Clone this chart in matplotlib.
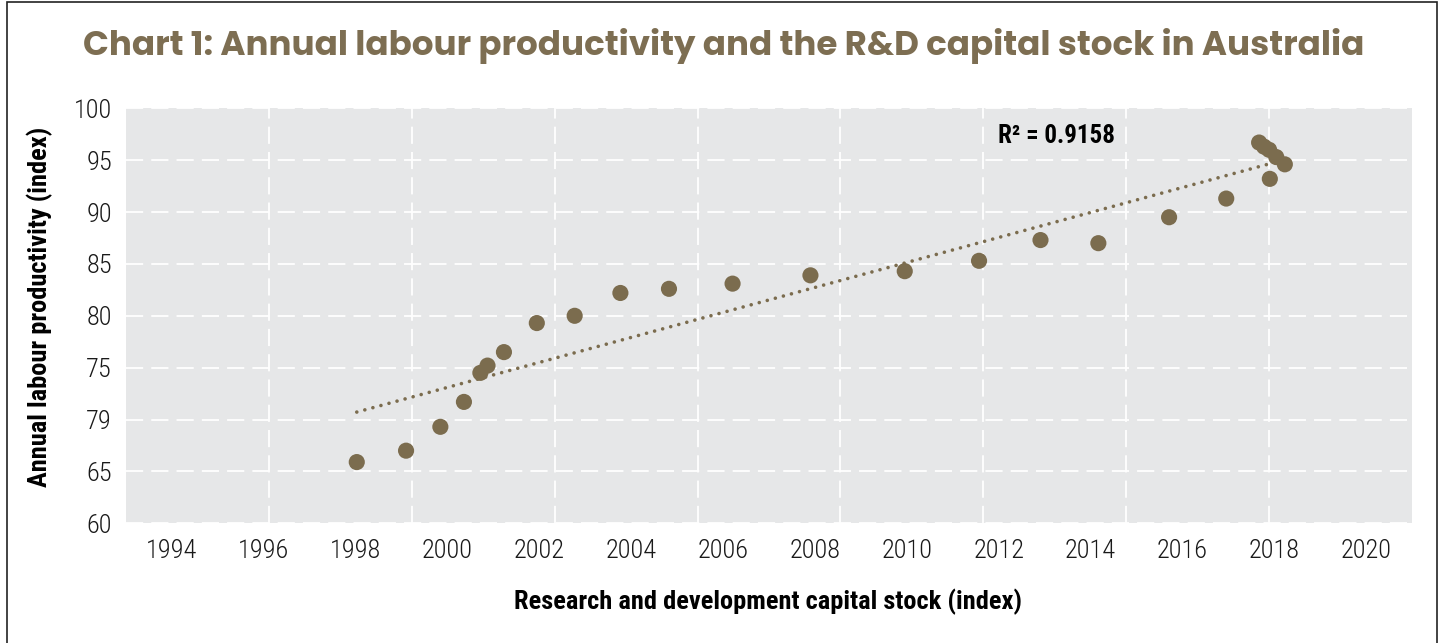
#!/usr/bin/env python3
"""Chart 1: annual labour productivity vs the R&D capital stock in Australia."""

import numpy as np
import matplotlib
matplotlib.use('Agg')
import matplotlib.pyplot as plt
from matplotlib import font_manager
from matplotlib.patches import Rectangle

# R&D capital stock (index) - x values
rd_capital = [32.3, 39.2, 44.0, 47.3, 49.6, 50.6, 52.9, 57.5, 62.8, 69.2,
              76.0, 84.9, 95.8, 109.0, 119.4, 128.0, 136.1, 146.0, 154.0,
              160.1, 158.6, 159.3, 160.0, 161.0, 162.2]
# Annual labour productivity (index)
labour_prod = [65.9, 67.0, 69.3, 71.7, 74.5, 75.2, 76.5, 79.3, 80.0, 82.2,
               82.6, 83.1, 83.9, 84.3, 85.3, 87.3, 87.0, 89.5, 91.3,
               93.2, 96.7, 96.3, 96.0, 95.3, 94.6]

year_labels = ['1994', '1996', '1998', '2000', '2002', '2004', '2006',
               '2008', '2010', '2012', '2014', '2016', '2018', '2020']
y_ticks = [60, 65, 70, 75, 80, 85, 90, 95, 100]
y_tick_labels = ['60', '65', '79', '75', '80', '85', '90', '95', '100']
r2_text = 'R² = 0.9158'

BROWN = '#7b6c4e'
TITLE_COLOR = '#7d6e52'
PANEL = '#e6e7e8'


def pick_font(*names):
    installed = {f.name for f in font_manager.fontManager.ttflist}
    for n in names:
        if n in installed:
            return n
    return 'DejaVu Sans'


narrow = pick_font('Roboto Condensed', 'Liberation Sans Narrow', 'Roboto')
tick_font = pick_font('Roboto Condensed', 'Roboto')
title_font = pick_font('Poppins', 'Montserrat', 'Open Sans', 'Lato')

fig = plt.figure(figsize=(14.5, 6.43), dpi=100)
fig.patch.set_facecolor('white')
fig.patches.append(Rectangle((7 / 1450, -0.05), 1430 / 1450, 1.05 - 2 / 643,
                             transform=fig.transFigure, fill=False,
                             edgecolor='#222222', linewidth=1.2))

ax = fig.add_axes([126 / 1450, 1 - 523.3 / 643, 1286 / 1450, 415 / 643])
ax.set_facecolor(PANEL)
for s in ax.spines.values():
    s.set_visible(False)

x_min, x_max = 0, 180
ax.set_xlim(x_min, x_max)
ax.set_ylim(60, 100)

# year labels sit in the middle of 14 equal bins
n = len(year_labels)
centers = [x_min + (i + 0.5) * (x_max - x_min) / n for i in range(n)]
ax.set_xticks(centers)
ax.set_xticklabels(year_labels)
ax.set_xticks(np.arange(20, 180, 20), minor=True)
ax.set_yticks(y_ticks)
ax.set_yticklabels(y_tick_labels)

ax.tick_params(axis='both', which='both', length=0)
ax.tick_params(axis='x', pad=11, labelsize=19)
ax.tick_params(axis='y', pad=10, labelsize=19)
for lab in ax.get_xticklabels() + ax.get_yticklabels():
    lab.set_family(tick_font)
    lab.set_fontweight('light')
    lab.set_color('#1a1a1a')

ax.grid(False)
dash = (0, (9.5, 4.5))
ax.xaxis.grid(True, which='minor', color='white', linestyle=dash, linewidth=1.3)
ax.yaxis.grid(True, which='major', color='white', linestyle=dash, linewidth=1.3)
ax.set_axisbelow(True)

# linear trendline (Excel style, from min x to max x)
x = np.array(rd_capital)
y = np.array(labour_prod)
slope, intercept = np.polyfit(x, y, 1)
xs = np.array([x.min(), x.max()])
ax.plot(xs, slope * xs + intercept, color=BROWN, linewidth=2.6,
        linestyle=(0, (0.01, 2.3)), dash_capstyle='round', zorder=2)

ax.scatter(rd_capital, labour_prod, s=135, color=BROWN, edgecolor='none', zorder=3)

ax.text(0.678, 0.933, r2_text, transform=ax.transAxes, ha='left', va='center',
        fontsize=18, fontweight='bold', family=narrow, color='black')

fig.text(0.4993, 1 - 46 / 643, 'Chart 1: Annual labour productivity and the R&D capital stock in Australia',
         ha='center', va='center', fontsize=24.5, fontweight='bold',
         family=title_font, color=TITLE_COLOR)
fig.text(768 / 1450, 1 - 602 / 643, 'Research and development capital stock (index)',
         ha='center', va='center', fontsize=19, fontweight='bold', family=narrow)
fig.text(40 / 1450, 1 - 307 / 643, 'Annual labour productivity (index)',
         ha='center', va='center', rotation=90, fontsize=19, fontweight='bold', family=narrow)

fig.savefig('out.png', dpi=100)
